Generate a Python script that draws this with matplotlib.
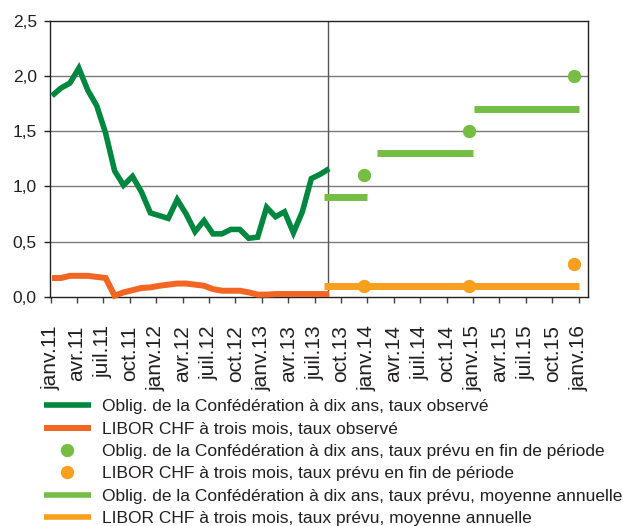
import numpy as np
import matplotlib
matplotlib.use("Agg")
import matplotlib.pyplot as plt
from matplotlib.lines import Line2D

plt.rcParams['font.family'] = ['Liberation Sans', 'DejaVu Sans']

# ---------------- data ----------------
tick_labels = ['janv.11', 'avr.11', 'juil.11', 'oct.11',
               'janv.12', 'avr.12', 'juil.12', 'oct.12',
               'janv.13', 'avr.13', 'juil.13', 'oct.13',
               'janv.14', 'avr.14', 'juil.14', 'oct.14',
               'janv.15', 'avr.15', 'juil.15', 'oct.15', 'janv.16']
tick_months = [0, 3, 6, 9, 12, 15, 18, 21, 24, 27, 30, 33, 36, 39, 42, 45, 48, 51, 54, 57, 60]

# observed monthly values, janv.2011 .. août 2013
conf_obs = [1.82, 1.89, 1.935, 2.07, 1.87, 1.73, 1.48, 1.14, 1.01, 1.09, 0.95, 0.76,
            0.735, 0.71, 0.88, 0.75, 0.59, 0.69, 0.57, 0.57, 0.61, 0.61, 0.53, 0.54,
            0.81, 0.725, 0.77, 0.58, 0.77, 1.07, 1.11, 1.16]
libor_obs = [0.17, 0.17, 0.19, 0.19, 0.19, 0.18, 0.17, 0.01, 0.04, 0.06, 0.08, 0.085,
             0.10, 0.11, 0.12, 0.12, 0.11, 0.10, 0.07, 0.055, 0.055, 0.055, 0.04, 0.02,
             0.02, 0.025, 0.025, 0.025, 0.025, 0.025, 0.025, 0.025]

# forecasts: end of period points
fc_point_months = [35.6, 47.55, 59.45]
conf_fc_end = [1.1, 1.5, 2.0]
libor_fc_end = [0.1, 0.1, 0.3]

# forecasts: annual averages (start, end month of the bar)
conf_avg_start = [31.1, 37.1, 48.15]
conf_avg_end = [36.0, 48.0, 60.0]
conf_avg = [0.9, 1.3, 1.7]
libor_avg_start = [31.1]
libor_avg_end = [60.0]
libor_avg = [0.1]

forecast_start = 31.47

legend_labels = [
    "Oblig. de la Confédération à dix ans, taux observé",
    "LIBOR CHF à trois mois, taux observé",
    "Oblig. de la Confédération à dix ans, taux prévu en fin de période",
    "LIBOR CHF à trois mois, taux prévu en fin de période",
    "Oblig. de la Confédération à dix ans, taux prévu, moyenne annuelle",
    "LIBOR CHF à trois mois, taux prévu, moyenne annuelle",
]

# ---------------- style ----------------
c_conf = '#00873f'
c_libor = '#f26522'
c_conf_fc = '#76bd43'
c_libor_fc = '#f7a01e'
txt = '#231f20'

W, H = 623, 526
fig = plt.figure(figsize=(W / 100, H / 100), dpi=100)
L, R, T, B = 50, 588.3, 20.7, 296.8
ax = fig.add_axes([L / W, 1 - B / H, (R - L) / W, (B - T) / H])

obs_x = np.linspace(0.15, 31.65, len(conf_obs))

for y in [0.5, 1.0, 1.5, 2.0]:
    ax.axhline(y, color='#7a7a7a', lw=1.0, zorder=1)
ax.axvline(forecast_start, color='#555555', lw=1.0, zorder=1)

ax.plot(obs_x, conf_obs, color=c_conf, lw=4.0, solid_joinstyle='miter',
        solid_capstyle='butt', zorder=4)
ax.plot(obs_x, libor_obs, color=c_libor, lw=4.3, solid_joinstyle='miter',
        solid_capstyle='butt', zorder=4, clip_on=False)

ax.hlines(conf_avg, conf_avg_start, conf_avg_end, color=c_conf_fc, lw=5.0, zorder=3)
ax.hlines(libor_avg, libor_avg_start, libor_avg_end, color=c_libor_fc, lw=5.0, zorder=3)
ax.plot(fc_point_months, conf_fc_end, 'o', color=c_conf_fc, ms=9.6, mec='none', zorder=5)
ax.plot(fc_point_months, libor_fc_end, 'o', color=c_libor_fc, ms=9.6, mec='none', zorder=5)

ax.set_xlim(-0.08, 61.1)
ax.set_ylim(0, 2.5)
ax.set_yticks([0, 0.5, 1.0, 1.5, 2.0, 2.5])
ax.set_yticklabels(['0,0', '0,5', '1,0', '1,5', '2,0', '2,5'])
ax.set_xticks(tick_months)
ax.set_xticklabels(tick_labels, rotation=90, ha='center', va='top')

for s in ax.spines.values():
    s.set_color('#222222')
    s.set_linewidth(1.0)
ax.tick_params(axis='y', direction='out', length=4.5, width=1.0, color='#222222',
               labelsize=12.5, labelcolor=txt, pad=5)
ax.tick_params(axis='x', direction='out', length=4.5, width=1.0, color='#444444',
               labelsize=15, labelcolor=txt, pad=16)

handles = [
    Line2D([], [], color=c_conf, lw=4.0, solid_capstyle='butt'),
    Line2D([], [], color=c_libor, lw=4.3, solid_capstyle='butt'),
    Line2D([], [], color=c_conf_fc, marker='o', ls='none', ms=9.6, mec='none'),
    Line2D([], [], color=c_libor_fc, marker='o', ls='none', ms=9.6, mec='none'),
    Line2D([], [], color=c_conf_fc, lw=4.0, solid_capstyle='butt'),
    Line2D([], [], color=c_libor_fc, lw=4.0, solid_capstyle='butt'),
]
fig.legend(handles, legend_labels, loc='upper left',
           bbox_to_anchor=(44 / W, 1 - 399 / H), frameon=False,
           fontsize=12.5, handlelength=2.7, handletextpad=0.65,
           labelspacing=0.42, borderpad=0, borderaxespad=0, labelcolor=txt)

fig.savefig('out.png', dpi=100)
